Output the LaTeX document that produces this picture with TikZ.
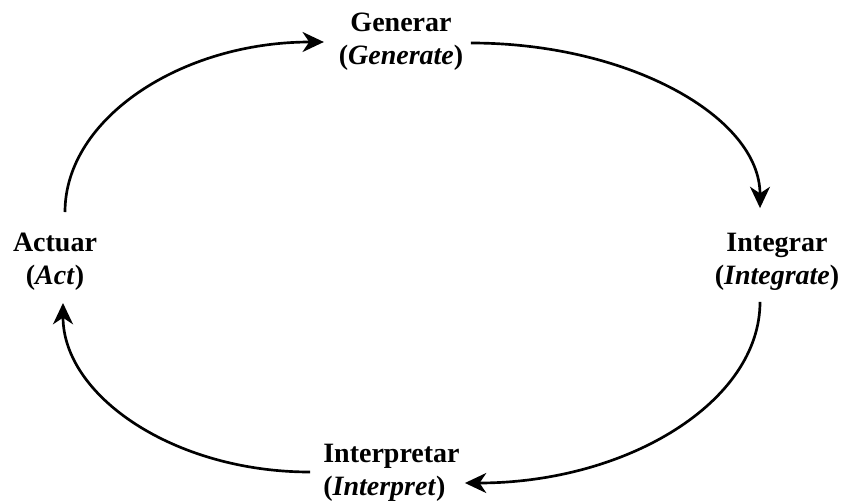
\documentclass[tikz,border=0pt]{standalone}
\usepackage{fontspec}
\setmainfont{Liberation Serif}
\usepackage{tikz}
\usetikzlibrary{positioning,calc,arrows.meta}

\begin{document}
\begin{tikzpicture}[x=0.75pt, y=-0.75pt,
    stage/.style={font=\fontsize{21pt}{24.75pt}\selectfont\bfseries, align=center, inner sep=0pt},
    flow/.style={-{Stealth[length=16pt, width=15pt, inset=5pt]}, line width=2pt}]
    \useasboundingbox (0,0) rectangle (848,502);

    % the four stages
    \node [stage] (Gen) at (401,42) {Generar\\(\textit{Generate})};
    \node [stage] (Integ) at (777,262) {Integrar\\(\textit{Integrate})};
    \node [stage, align=left] (Interp) at (391.5,473) {Interpretar\\(\textit{Interpret})};
    \node [stage] (Act) at (55,262) {Actuar\\(\textit{Act})};

    % cycle arrows
    \draw [flow] ([xshift=7.5pt, yshift=15.75pt]Act.north)
        .. controls +(0,-94) and +(-142,0) .. ([xshift=-11pt]Gen.west);
    \draw [flow] ([xshift=5.5pt, yshift=-0.75pt]Gen.east)
        .. controls +(158,0) and +(0,-91) .. ([xshift=-12.75pt, yshift=18.75pt]Integ.north);
    \draw [flow] ([xshift=-12.75pt, yshift=-8.25pt]Integ.south)
        .. controls +(0,100) and +(162,0) .. ([xshift=3.75pt, yshift=-7.5pt]Interp.east);
    \draw [flow] ([xshift=-9.75pt, yshift=0.75pt]Interp.west)
        .. controls +(-136,0) and +(0,93) .. ([xshift=6pt, yshift=-9pt]Act.south);
\end{tikzpicture}
\end{document}
